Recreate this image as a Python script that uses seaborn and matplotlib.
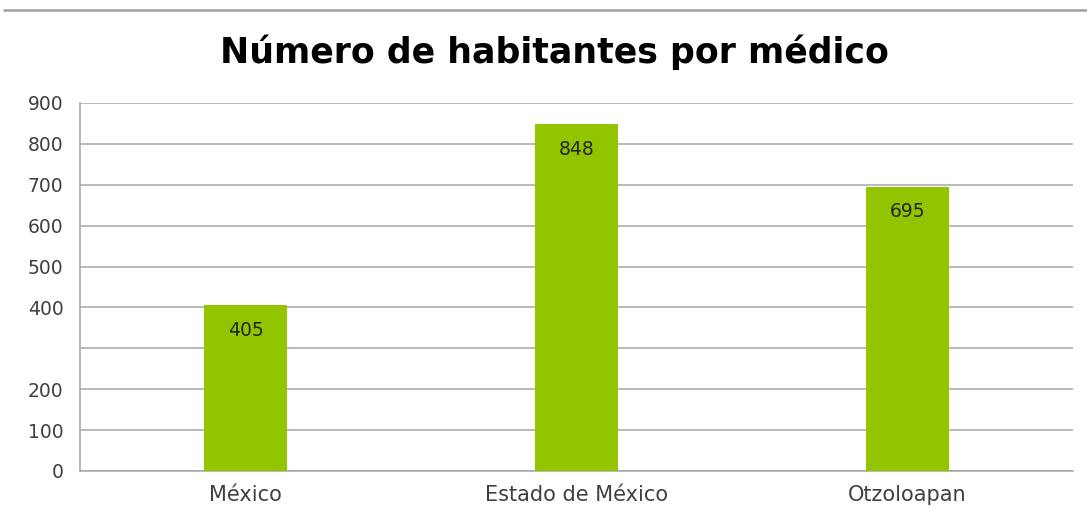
import matplotlib
matplotlib.use("Agg")
import matplotlib.pyplot as plt
from matplotlib.lines import Line2D
import seaborn as sns
import pandas as pd

categories = ["México", "Estado de México", "Otzoloapan"]
values = [405, 848, 695]
y_ticks = [0, 100, 200, 300, 400, 500, 600, 700, 800, 900]
y_tick_labels = ["0", "100", "200", "", "400", "500", "600", "700", "800", "900"]
title = "Número de habitantes por médico"

sns.set_theme(style="white")
plt.rcParams["font.family"] = ["DejaVu Sans"]

df = pd.DataFrame({"cat": categories, "val": values})

fig = plt.figure(figsize=(10.87, 5.2), dpi=100)
ax = fig.add_axes([80 / 1087, 49 / 520, (1073 - 80) / 1087, (471 - 103) / 520])

sns.barplot(data=df, x="cat", y="val", color="#92C400", saturation=1, width=0.25,
            linewidth=0, ax=ax, zorder=3)

ax.set_ylim(0, 900)
ax.set_xlim(-0.5, 2.5)
ax.set_yticks(y_ticks)
ax.set_yticklabels(y_tick_labels)
ax.yaxis.grid(True, color="#A6A6A6", linewidth=1.1, zorder=0)
ax.set_axisbelow(True)
for s in ["top", "right"]:
    ax.spines[s].set_visible(False)
for s in ["left", "bottom"]:
    ax.spines[s].set_color("#A6A6A6")
    ax.spines[s].set_linewidth(1.1)
ax.tick_params(axis="y", length=0, pad=12, labelsize=13.5, labelcolor="#404040")
ax.tick_params(axis="x", length=0, pad=10, labelsize=15, labelcolor="#404040")
ax.set_xlabel("")
ax.set_ylabel("")

for i, v in enumerate(values):
    ax.annotate(str(v), xy=(i, v), xytext=(0, -18), textcoords="offset points",
                ha="center", va="center", fontsize=13.5, color="#262626")

fig.text(554 / 1087, 1 - 52 / 520, title, ha="center", va="center", fontsize=25, fontweight="bold", color="#000000")
fig.add_artist(Line2D([4 / 1087, 1], [1 - 10 / 520, 1 - 10 / 520], color="#A0A0A0", linewidth=1.8))

fig.savefig("out.png", dpi=100, facecolor="white")
